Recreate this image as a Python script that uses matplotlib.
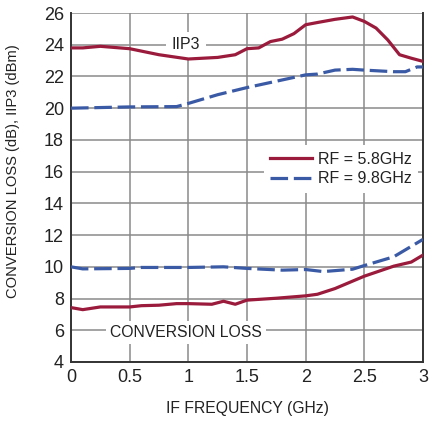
import matplotlib
matplotlib.use("Agg")
import matplotlib.pyplot as plt
from matplotlib import font_manager

names = {f.name for f in font_manager.fontManager.ttflist}
family = "Liberation Sans Narrow" if "Liberation Sans Narrow" in names else "Liberation Sans"
plt.rcParams["font.family"] = [family, "DejaVu Sans"]

# IIP3 curves (dBm) vs IF frequency (GHz)
iip3_x = [0, 0.1, 0.25, 0.5, 0.75, 1.0, 1.25, 1.4, 1.5, 1.6, 1.7, 1.8, 1.9, 2.0, 2.1,
          2.25, 2.4, 2.5, 2.6, 2.7, 2.8, 2.9, 3.0]
iip3_58 = [23.8, 23.8, 23.9, 23.75, 23.37, 23.1, 23.2, 23.37, 23.75, 23.8, 24.2, 24.35,
           24.7, 25.26, 25.4, 25.6, 25.75, 25.47, 25.05, 24.3, 23.37, 23.15, 22.95]

iip3_x98 = [0, 0.5, 0.9, 1.0, 1.25, 1.5, 1.75, 2.0, 2.1, 2.25, 2.4, 2.5, 2.75, 2.85, 2.95, 3.0]
iip3_98 = [20.0, 20.08, 20.1, 20.3, 20.85, 21.3, 21.7, 22.1, 22.15, 22.4, 22.45, 22.4,
           22.3, 22.3, 22.6, 22.6]

# Conversion loss curves (dB)
cl_x58 = [0, 0.1, 0.25, 0.5, 0.6, 0.75, 0.9, 1.0, 1.2, 1.3, 1.4, 1.5, 1.75, 2.0, 2.1,
          2.25, 2.5, 2.75, 2.9, 3.0]
cl_58 = [7.43, 7.3, 7.47, 7.47, 7.55, 7.58, 7.68, 7.68, 7.64, 7.83, 7.64, 7.9, 8.02,
         8.17, 8.27, 8.63, 9.41, 10.04, 10.3, 10.74]

cl_x98 = [0, 0.1, 0.5, 0.6, 1.0, 1.3, 1.5, 1.8, 2.0, 2.15, 2.4, 2.5, 2.75, 3.0]
cl_98 = [10.0, 9.87, 9.9, 9.96, 9.96, 10.0, 9.9, 9.79, 9.83, 9.7, 9.85, 10.08, 10.63, 11.73]

x_ticks = [0, 0.5, 1, 1.5, 2, 2.5, 3]
x_tick_labels = ["0", "0.5", "1", "1.5", "2", "2.5", "3"]
y_ticks = [4, 6, 8, 10, 12, 14, 16, 18, 20, 22, 24, 26]

red = "#9a1b3c"
blue = "#3b5aa6"
ink = "#222222"

fig = plt.figure(figsize=(4.34, 4.21), dpi=100)
ax = fig.add_axes([71 / 434, 1 - 362 / 421, (423 - 71) / 434, (362 - 13) / 421])

ax.plot(iip3_x, iip3_58, color=red, lw=2.3, zorder=3, label="RF = 5.8GHz")
ax.plot(cl_x58, cl_58, color=red, lw=2.3, zorder=3)
ax.plot(iip3_x98, iip3_98, color=blue, lw=2.3, dashes=(5.5, 1.8), zorder=3,
        label="RF = 9.8GHz")
ax.plot(cl_x98, cl_98, color=blue, lw=2.3, dashes=(5.5, 1.8), zorder=3)

ax.set_xlim(0, 3)
ax.set_ylim(4, 26)
ax.set_xticks(x_ticks)
ax.set_xticklabels(x_tick_labels)
ax.set_yticks(y_ticks)
ax.grid(True, color="#8a8a8a", lw=1.1)
ax.set_axisbelow(True)
ax.tick_params(length=0, labelsize=13, colors=ink, pad=5)
for side in ["left", "bottom", "right"]:
    ax.spines[side].set_color("#333333")
    ax.spines[side].set_linewidth(1.4)
ax.spines["top"].set_visible(False)

ax.set_xlabel("IF FREQUENCY (GHz)", fontsize=11.3, color=ink, labelpad=11)
ax.set_ylabel("CONVERSION LOSS (dB), IIP3 (dBm)", fontsize=10.6, color=ink)
ax.yaxis.set_label_coords(-0.145, 0.547)

ax.text(0.98, 24.0, "IIP3", fontsize=11.5, color=ink, ha="center", va="center",
        bbox=dict(facecolor="white", edgecolor="none", pad=4), zorder=2)
ax.text(0.98, 5.85, "CONVERSION LOSS", fontsize=11.3, color=ink, ha="center",
        va="center", bbox=dict(facecolor="white", edgecolor="none", pad=3), zorder=2)

leg = ax.legend(loc="upper right", bbox_to_anchor=(1.0, 0.635), fontsize=11.5,
                frameon=True, fancybox=False, framealpha=1, edgecolor="none",
                handlelength=2.6, handletextpad=0.4, borderpad=0.4, labelspacing=0.3,
                borderaxespad=0.3)
for t in leg.get_texts():
    t.set_color(ink)

fig.savefig("out.png", dpi=100)
